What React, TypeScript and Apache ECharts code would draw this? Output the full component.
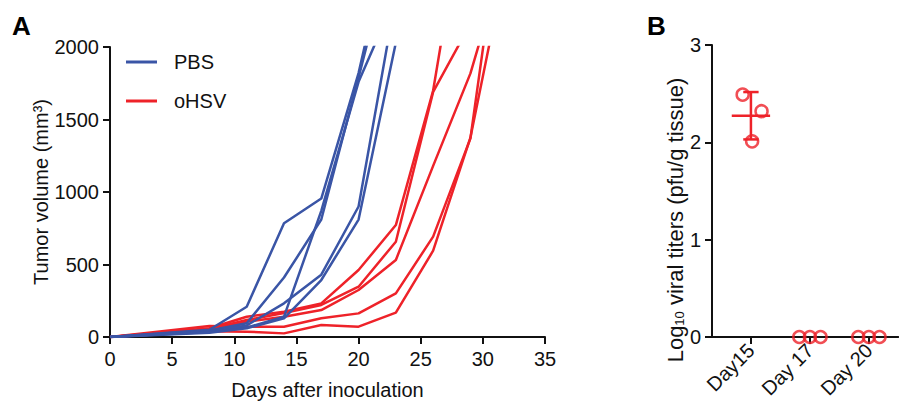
import React, { useEffect, useRef } from "react";
import * as echarts from "echarts";

// ---------- Panel A data: tumor volume (mm^3) per mouse ----------
const pbsDays = [0, 8, 11, 14, 17, 20, 23];
const pbsMouse1 = [0, 50, 209, 784, 955, 1820, 2950];
const pbsMouse2 = [0, 45, 95, 410, 810, 1790, 2800];
const pbsMouse3 = [0, 40, 65, 140, 870, 1760, 2350];
const pbsMouse4 = [0, 35, 80, 232, 430, 900, 2345];
const pbsMouse5 = [0, 30, 60, 129, 393, 810, 2030];

const hsvDays = [0, 8, 11, 14, 17, 20, 23, 26, 29, 31];
const hsvMouse1 = [0, 60, 140, 175, 232, 462, 772, 1700, 3240];
const hsvMouse2 = [0, 55, 117, 165, 221, 347, 657, 1690, 2160];
const hsvMouse3 = [0, 50, 106, 140, 186, 324, 531, 1180, 1818, 2400];
const hsvMouse4 = [0, 76, 71, 71, 129, 163, 301, 692, 1370, 2600];
const hsvMouse5 = [0, 40, 37, 25, 83, 71, 168, 595, 1375, 2220];

const xTicksA = { min: 0, max: 35, interval: 5 };
const yTicksA = { min: 0, max: 2000, interval: 500 };

// ---------- Panel B data: log10 viral titers ----------
const groupsB = ["Day15", "Day 17", "Day 20"];
const titerDay15 = [2.49, 2.32, 2.01];
const titerDay17 = [0, 0, 0];
const titerDay20 = [0, 0, 0];
const jitterDay15 = [-0.14, 0.18, 0.02];
const jitterDay17 = [-0.18, 0, 0.18];
const jitterDay20 = [-0.18, 0, 0.18];
const yTicksB = { min: 0, max: 3, interval: 1 };

const BLUE = "#3a55a6";
const RED = "#ee2229";
const INK = "#111111";
const FONT = "'Liberation Sans', Arial, Helvetica, sans-serif";

function lineSeries(name: string, color: string, days: number[], vals: number[]) {
  return {
    type: "line",
    name,
    xAxisIndex: 0,
    yAxisIndex: 0,
    data: vals.map((v, j) => [days[j], v]),
    symbol: "none",
    color,
    lineStyle: { width: 2.5, color },
    clip: true,
    z: name === "PBS" ? 4 : 3,
  };
}

function buildOption() {
  const hsv = [hsvMouse1, hsvMouse2, hsvMouse3, hsvMouse4, hsvMouse5];
  const pbs = [pbsMouse1, pbsMouse2, pbsMouse3, pbsMouse4, pbsMouse5];
  const titers = [titerDay15, titerDay17, titerDay20];
  const jitters = [jitterDay15, jitterDay17, jitterDay20];

  const points: number[][] = [];
  titers.forEach((vals, g) => vals.forEach((v, k) => points.push([g + jitters[g][k], v])));

  const summary: number[][] = [];
  titers.forEach((vals, g) => {
    const n = vals.length;
    const mean = vals.reduce((a, b) => a + b, 0) / n;
    const sd = Math.sqrt(vals.reduce((a, b) => a + (b - mean) * (b - mean), 0) / (n - 1));
    if (mean > 0) summary.push([g, mean, sd]);
  });

  const axisLine = { show: true, onZero: false, lineStyle: { color: INK, width: 2 } };
  const axisTick = { show: true, length: 7, lineStyle: { color: INK, width: 2 } };
  const label = { color: INK, fontSize: 20, fontFamily: FONT };
  const plain = (v: number) => String(v);

  return {
    animation: false,
    textStyle: { fontFamily: FONT },
    grid: [
      { left: 110, top: 47, width: 435, height: 290 },
      { left: 712, top: 45, width: 186.4, height: 292 },
    ],
    legend: {
      data: ["PBS", "oHSV"],
      orient: "vertical",
      left: 126,
      top: 52,
      padding: 0,
      itemWidth: 31,
      itemHeight: 3,
      itemGap: 19,
      icon: "rect",
      selectedMode: false,
      textStyle: { ...label, padding: [0, 0, 0, 12] },
    },
    xAxis: [
      {
        gridIndex: 0,
        type: "value",
        ...xTicksA,
        axisLine,
        axisTick,
        splitLine: { show: false },
        axisLabel: { ...label, margin: 12, formatter: plain },
        name: "Days after inoculation",
        nameLocation: "middle",
        nameGap: 43,
        nameTextStyle: { ...label },
      },
      {
        gridIndex: 1,
        type: "value",
        min: -0.66,
        max: 2.5,
        axisLine,
        axisTick: { ...axisTick, customValues: [0, 1, 2] },
        splitLine: { show: false },
        axisLabel: {
          ...label,
          customValues: [0, 1, 2],
          rotate: 45,
          margin: 10,
          formatter: (v: number) => groupsB[Math.round(v)] ?? "",
        },
      },
    ],
    yAxis: [
      {
        gridIndex: 0,
        type: "value",
        ...yTicksA,
        axisLine,
        axisTick,
        splitLine: { show: false },
        axisLabel: { ...label, margin: 11, formatter: plain },
        name: "Tumor volume (mm³)",
        nameLocation: "middle",
        nameGap: 58,
        nameTextStyle: { ...label },
      },
      {
        gridIndex: 1,
        type: "value",
        ...yTicksB,
        axisLine,
        axisTick,
        splitLine: { show: false },
        axisLabel: { ...label, margin: 11, formatter: plain },
      },
    ],
    graphic: [
      { type: "text", left: 12, top: 13, style: { text: "A", fontSize: 26, fontWeight: "bold", fill: "#000", fontFamily: FONT } },
      { type: "text", left: 647, top: 13, style: { text: "B", fontSize: 26, fontWeight: "bold", fill: "#000", fontFamily: FONT } },
      {
        type: "text",
        x: 675,
        y: 220,
        rotation: Math.PI / 2,
        style: {
          text: "{n|Log}{s|10}{n| viral titers (pfu/g tissue)}",
          align: "center",
          verticalAlign: "middle",
          fill: INK,
          fontFamily: FONT,
          rich: {
            n: { fontSize: 22, fontFamily: FONT, fill: INK },
            s: { fontSize: 13, fontFamily: FONT, fill: INK, verticalAlign: "bottom" },
          },
        },
      },
    ],
    series: [
      ...hsv.map((v) => lineSeries("oHSV", RED, hsvDays, v)),
      ...pbs.map((v) => lineSeries("PBS", BLUE, pbsDays, v)),
      {
        type: "scatter",
        name: "titer",
        xAxisIndex: 1,
        yAxisIndex: 1,
        data: points,
        symbol: "circle",
        symbolSize: 12,
        clip: false,
        itemStyle: { color: "transparent", borderColor: RED, borderWidth: 2.5 },
        z: 5,
      },
      {
        type: "custom",
        name: "meanSD",
        xAxisIndex: 1,
        yAxisIndex: 1,
        data: summary,
        clip: false,
        z: 6,
        renderItem: (params: any, api: any) => {
          const x = api.value(0);
          const m = api.value(1);
          const s = api.value(2);
          const c = api.coord([x, m]);
          const top = api.coord([x, m + s]);
          const bot = api.coord([x, m - s]);
          const halfMean = api.size([0.325, 0])[0];
          const halfCap = api.size([0.13, 0])[0];
          const st = { stroke: RED, lineWidth: 2.5 };
          return {
            type: "group",
            children: [
              { type: "line", shape: { x1: c[0] - halfMean, y1: c[1], x2: c[0] + halfMean, y2: c[1] }, style: st },
              { type: "line", shape: { x1: c[0], y1: top[1], x2: c[0], y2: bot[1] }, style: st },
              { type: "line", shape: { x1: c[0] - halfCap, y1: top[1], x2: c[0] + halfCap, y2: top[1] }, style: st },
              { type: "line", shape: { x1: c[0] - halfCap, y1: bot[1], x2: c[0] + halfCap, y2: bot[1] }, style: st },
            ],
          };
        },
      },
    ],
  };
}

export default function App() {
  const ref = useRef<HTMLDivElement>(null);
  useEffect(() => {
    document.body.style.margin = "0";
    if (!ref.current) return;
    const chart = echarts.init(ref.current, null, { renderer: "svg" });
    chart.setOption(buildOption() as any);
    return () => chart.dispose();
  }, []);
  return <div ref={ref} style={{ width: 899, height: 412 }} />;
}
